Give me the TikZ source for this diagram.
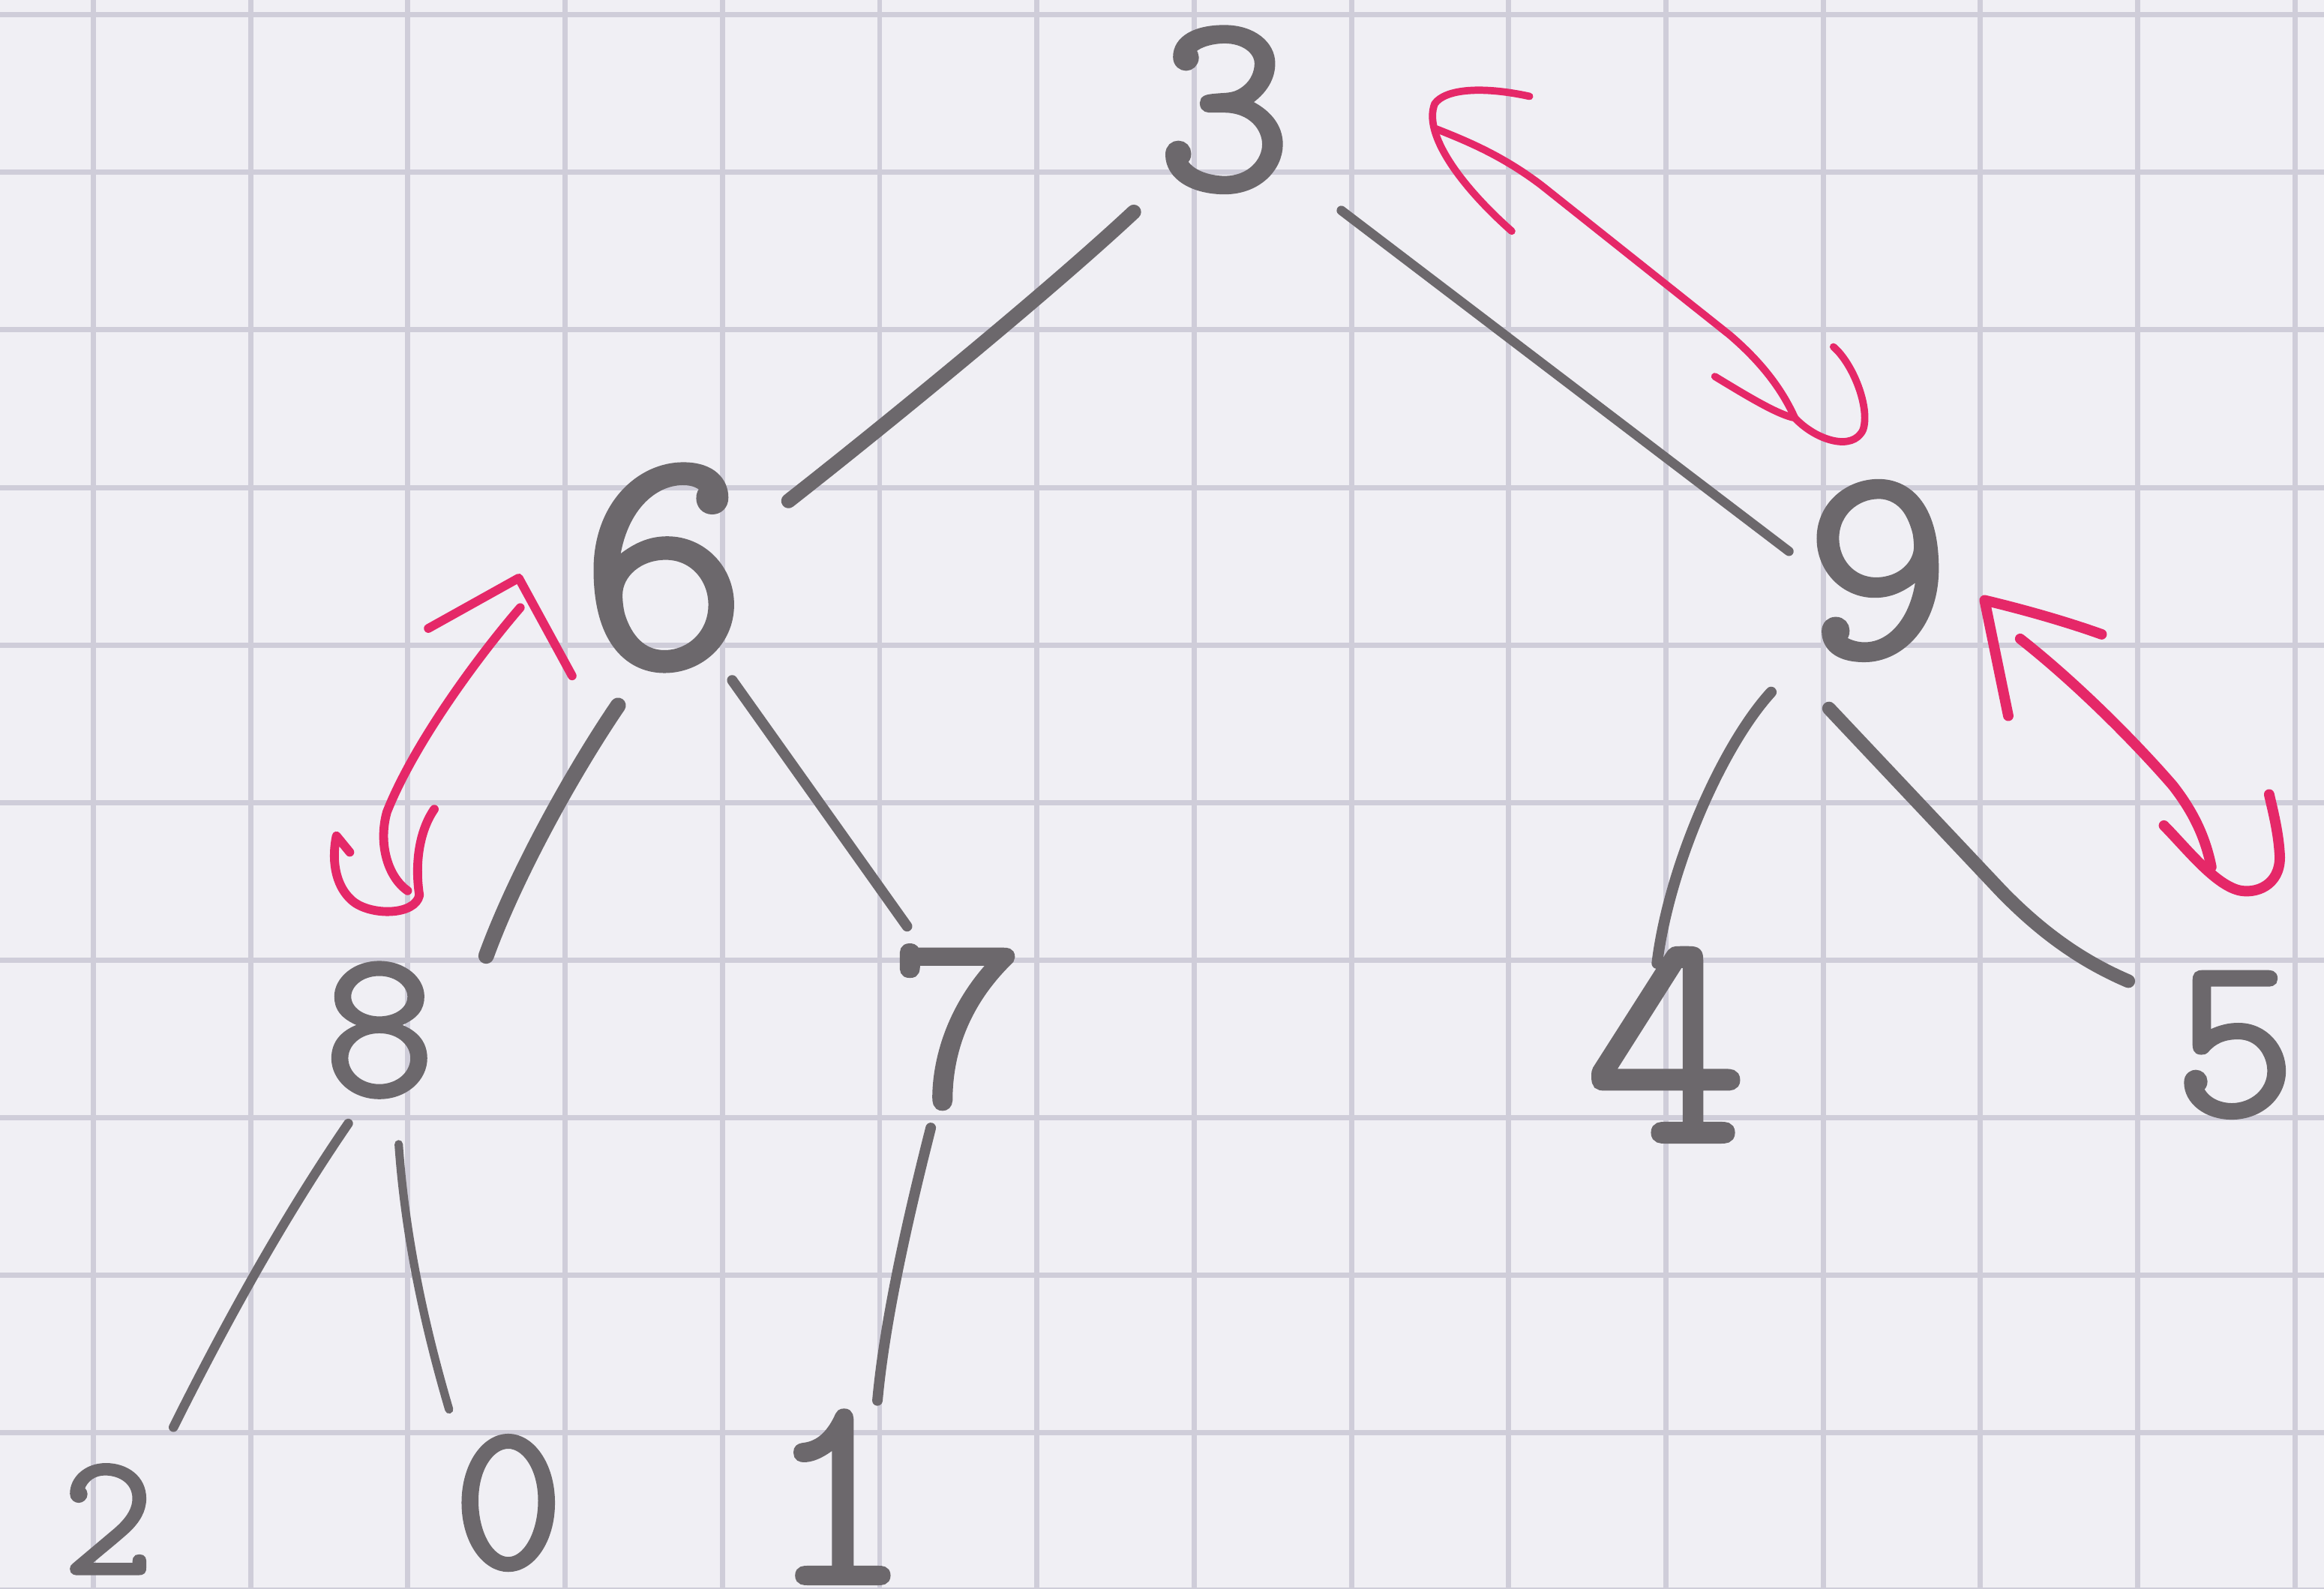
\documentclass[tikz,border=0pt]{standalone}
\usepackage{fontspec}
\newfontfamily\pencilfont{Latin Modern Mono Light}[FakeBold=3]
\usetikzlibrary{calc}

\definecolor{paper}{RGB}{240,239,244}
\definecolor{gridline}{RGB}{207,205,217}
\definecolor{pencil}{RGB}{108,104,108}
\definecolor{marker}{RGB}{229,40,104}

\tikzset{
  digit/.style={text=pencil, inner sep=0pt, font=\pencilfont\fontsize{#1}{#1}\selectfont},
  treeline/.style={draw=pencil, line width=#1, line cap=round},
  swapline/.style={draw=marker, line width=#1, line cap=round, line join=round},
  squares/.style={draw=gridline, line width=1pt},
}

\begin{document}
\begin{tikzpicture}[x=0.01cm, y=-0.01cm]
  % squared paper
  \useasboundingbox (0,0) rectangle (1568,1072);
  \fill[paper] (0,0) rectangle (1568,1072);
  \foreach \k in {0,...,14}
    \draw[squares] ({63+106.1*\k},0) -- ++(0,1072);
  \foreach \k in {0,...,10}
    \draw[squares] (0,{10+106.3*\k}) -- ++(1568,0);

  % the tree's keys
  \node[digit=49pt] (n3) at (826,74)   {3};
  \node[digit=61pt] (n6) at (448,383)  {6};
  \node[digit=53pt] (n9) at (1267,385) {9};
  \node[digit=40pt] (n8) at (256,695)  {8};
  \node[digit=48pt] (n7) at (646,693)  {7};
  \node[digit=58pt] (n4) at (1124,705) {4};
  \node[digit=44pt] (n5) at (1508,705) {5};
  \node[digit=33pt] (n2) at (73,1025)  {2};
  \node[digit=40pt] (n0) at (343,1014) {0};
  \node[digit=52pt] (n1) at (566,1010) {1};

  % pencil edges, parent to child
  \draw[treeline=2.8pt] ([shift={(-61,69)}]n3.center) .. controls (705,199) and (592,291) .. ([shift={(84,-45)}]n6.center);
  \draw[treeline=1.8pt] ([shift={(79,68)}]n3.center) -- ([shift={(-60,-13)}]n9.center);
  \draw[treeline=3pt] ([shift={(-31,93)}]n6.center) .. controls (387,520) and (348,590) .. ([shift={(72,-50)}]n8.center);
  \draw[treeline=2pt] ([shift={(46,76)}]n6.center) -- ([shift={(-34,-68)}]n7.center);
  \draw[treeline=2.1pt] ([shift={(-72,82)}]n9.center) .. controls (1162,503) and (1126,585) .. ([shift={(-6,-55)}]n4.center);
  \draw[treeline=2.6pt] ([shift={(-33,93)}]n9.center) -- (1350,601) .. controls (1380,632) and (1408,650) .. ([shift={(-72,-43)}]n5.center);
  \draw[treeline=1.8pt] ([shift={(-21,63)}]n8.center) .. controls (187,828) and (147,903) .. ([shift={(44,-62)}]n2.center);
  \draw[treeline=1.6pt] ([shift={(13,77)}]n8.center) .. controls (273,830) and (285,890) .. ([shift={(-40,-63)}]n0.center);
  \draw[treeline=2pt] ([shift={(-18,68)}]n7.center) .. controls (613,820) and (597,890) .. ([shift={(26,-65)}]n1.center);

  % swap marks: 3 <-> 9
  \coordinate (a1) at (969,87);
  \coordinate (a2) at (1211,282);
  \draw[swapline=1.4pt] (1032,65) .. controls (1000,58) and (975,60) .. (968,70)
        .. controls (960,90) and (985,125) .. (1020,156);
  \draw[swapline=1.4pt] (a1) .. controls (992,96) and (1015,106) .. (1040,125) -- (1167,226)
        .. controls (1188,244) and (1202,262) .. (a2);
  \draw[swapline=1.4pt] (1157,254) .. controls (1180,268) and (1200,280) .. (a2)
        .. controls (1225,297) and (1250,305) .. (1257,290)
        .. controls (1262,275) and (1250,245) .. (1237,234);

  % swap marks: 6 <-> 8
  \coordinate (b1) at (351,410);
  \coordinate (b2) at (275,601);
  \draw[swapline=1.7pt] (289,424) -- (350,390) -- (386,456);
  \draw[swapline=1.7pt] (b1) .. controls (325,440) and (280,500) .. (261,548)
        .. controls (255,570) and (262,592) .. (b2);
  \draw[swapline=1.7pt] (293,546) .. controls (282,562) and (280,585) .. (283,604)
        .. controls (280,618) and (250,618) .. (238,608)
        .. controls (225,597) and (224,578) .. (227,564) -- (236,575);

  % swap marks: 9 <-> 5
  \coordinate (c1) at (1363,431);
  \coordinate (c2) at (1492,585);
  \draw[swapline=2pt] (1418,428) .. controls (1390,418) and (1360,410) .. (1339,405) -- (1355,483);
  \draw[swapline=2pt] (c1) .. controls (1400,460) and (1440,500) .. (1466,530)
        .. controls (1480,548) and (1488,565) .. (c2);
  \draw[swapline=2pt] (1460,557) .. controls (1475,572) and (1495,598) .. (1512,601)
        .. controls (1525,603) and (1540,595) .. (1538,575)
        .. controls (1537,560) and (1533,545) .. (1531,536);
\end{tikzpicture}
\end{document}
